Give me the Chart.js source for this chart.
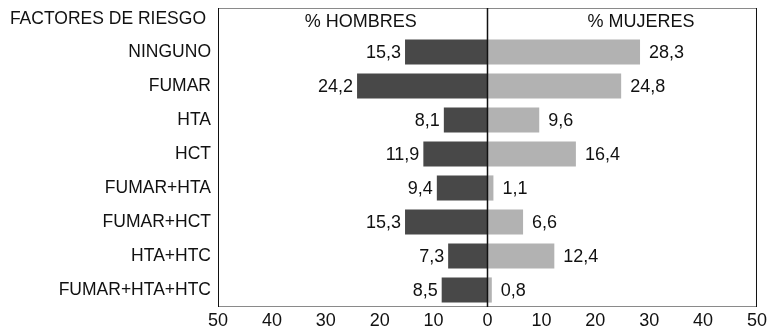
<!DOCTYPE html>
<html>
<head>
<meta charset="utf-8">
<script src="https://cdn.jsdelivr.net/npm/chart.js@4/dist/chart.umd.min.js"></script>
<style>
  html, body { margin: 0; padding: 0; background: #ffffff; }
  #wrap { width: 770px; height: 330px; position: relative; }
</style>
</head>
<body>
<div id="wrap"><canvas id="c" width="770" height="330"></canvas></div>
<script>
// Risk factors, percentage of men and women
const categories = ['NINGUNO', 'FUMAR', 'HTA', 'HCT', 'FUMAR+HTA', 'FUMAR+HCT', 'HTA+HTC', 'FUMAR+HTA+HTC'];
const hombres = [15.3, 24.2, 8.1, 11.9, 9.4, 15.3, 7.3, 8.5];
const mujeres = [28.3, 24.8, 9.6, 16.4, 1.1, 6.6, 12.4, 0.8];
const xTicks = [-50, -40, -30, -20, -10, 0, 10, 20, 30, 40, 50];

const FONT = "'Liberation Sans', Arial, Helvetica, sans-serif";
const fmt = v => v.toFixed(1).replace('.', ',');

const FRAME_TOP = 8;

const decor = {
  id: 'decor',
  afterDatasetsDraw(chart) {
    const { ctx, chartArea: a, scales } = chart;
    const x0 = scales.x.getPixelForValue(0);
    const bottom = a.bottom;
    ctx.save();

    // frame: grey top and bottom, black sides
    ctx.lineWidth = 1;
    ctx.strokeStyle = '#8a8a8a';
    ctx.beginPath();
    ctx.moveTo(a.left, FRAME_TOP + 0.5); ctx.lineTo(a.right, FRAME_TOP + 0.5);
    ctx.moveTo(a.left, bottom - 0.5); ctx.lineTo(a.right, bottom - 0.5);
    ctx.stroke();
    ctx.strokeStyle = '#111111';
    ctx.beginPath();
    ctx.moveTo(a.left + 0.5, FRAME_TOP); ctx.lineTo(a.left + 0.5, bottom);
    ctx.moveTo(a.right - 0.5, FRAME_TOP); ctx.lineTo(a.right - 0.5, bottom);
    ctx.stroke();

    // zero line
    ctx.lineWidth = 1.5;
    ctx.beginPath();
    ctx.moveTo(x0, FRAME_TOP); ctx.lineTo(x0, bottom);
    ctx.stroke();

    // headers
    ctx.fillStyle = '#111111';
    ctx.textBaseline = 'middle';
    ctx.font = '18px ' + FONT;
    ctx.textAlign = 'center';
    ctx.fillText('% HOMBRES', scales.x.getPixelForValue(-23.5), 22);
    ctx.fillText('% MUJERES', scales.x.getPixelForValue(28.5), 22);
    ctx.font = '17.5px ' + FONT;
    ctx.textAlign = 'right';
    ctx.fillText('FACTORES DE RIESGO', 206, 19);

    // value labels next to each bar
    ctx.font = '18px ' + FONT;
    chart.getDatasetMeta(0).data.forEach((bar, i) => {
      ctx.textAlign = 'right';
      ctx.fillText(fmt(hombres[i]), bar.x - 4, bar.y + 1);
    });
    chart.getDatasetMeta(1).data.forEach((bar, i) => {
      ctx.textAlign = 'left';
      ctx.fillText(fmt(mujeres[i]), bar.x + 9, bar.y + 1);
    });
    ctx.restore();
  }
};

new Chart(document.getElementById('c'), {
  type: 'bar',
  data: {
    labels: categories,
    datasets: [
      {
        label: '% HOMBRES',
        data: hombres.map(v => -v),
        backgroundColor: '#484848',
        borderWidth: 0,
        barPercentage: 0.74,
        categoryPercentage: 1
      },
      {
        label: '% MUJERES',
        data: mujeres,
        backgroundColor: '#b2b2b2',
        borderWidth: 0,
        barPercentage: 0.74,
        categoryPercentage: 1
      }
    ]
  },
  options: {
    indexAxis: 'y',
    responsive: false,
    animation: false,
    layout: { padding: { top: 35, right: 11, bottom: 0, left: 0 } },
    plugins: {
      legend: { display: false },
      tooltip: { enabled: false },
      title: { display: false }
    },
    scales: {
      x: {
        type: 'linear',
        stacked: true,
        min: -50,
        max: 50,
        afterBuildTicks(scale) { scale.ticks = xTicks.map(v => ({ value: v })); },
        afterFit(scale) { scale.height = 23; },
        grid: { display: false, drawTicks: false },
        border: { display: false },
        ticks: {
          padding: 3,
          color: '#111111',
          font: { family: FONT, size: 18 },
          callback: v => String(Math.abs(v))
        }
      },
      y: {
        stacked: true,
        afterFit(scale) { scale.width = 218; },
        grid: { display: false, drawTicks: false },
        border: { display: false },
        ticks: {
          padding: 7,
          color: '#111111',
          font: { family: FONT, size: 17.5 }
        }
      }
    }
  },
  plugins: [decor]
});
</script>
</body>
</html>
